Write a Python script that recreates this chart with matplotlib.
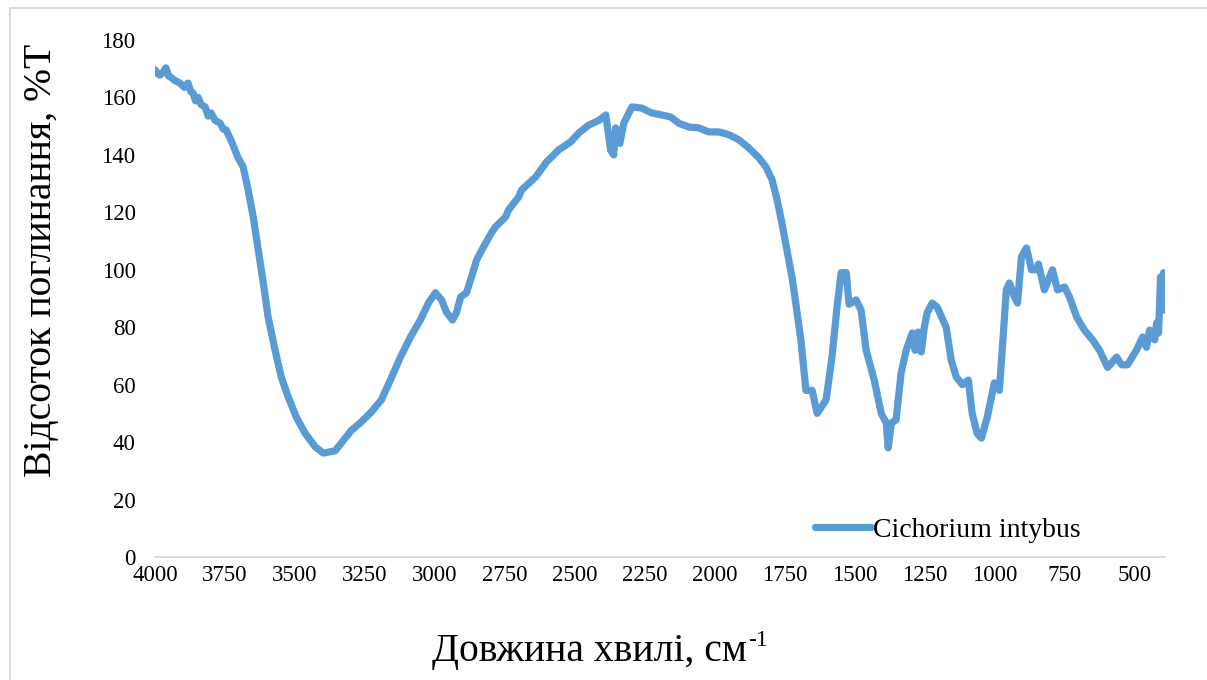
import numpy as np
import matplotlib
matplotlib.use("Agg")
import matplotlib.pyplot as plt
from matplotlib.patches import Rectangle

# FTIR spectrum, Cichorium intybus
wavenumber = [4000, 3990, 3982, 3972, 3961, 3952, 3943, 3930, 3911, 3895,
              3882, 3872, 3864, 3855, 3846, 3835, 3821, 3810, 3800, 3785,
              3767, 3756, 3746, 3728, 3703, 3685, 3667, 3649, 3631, 3613,
              3596, 3571, 3549, 3524, 3495, 3463, 3427, 3399, 3381, 3356,
              3334, 3299, 3263, 3227, 3191, 3159, 3123, 3087, 3052, 3023,
              2998, 2976, 2959, 2937, 2923, 2908, 2887, 2869, 2851, 2826,
              2797, 2783, 2747, 2737, 2701, 2690, 2640, 2601, 2558, 2515,
              2486, 2450, 2414, 2389, 2372, 2361, 2354, 2339, 2325, 2296,
              2261, 2225, 2189, 2157, 2128, 2092, 2057, 2021, 1985, 1949,
              1913, 1878, 1842, 1817, 1795, 1777, 1760, 1742, 1724, 1717,
              1692, 1674, 1652, 1634, 1602, 1581, 1563, 1548, 1530, 1520,
              1495, 1477, 1459, 1430, 1405, 1387, 1380, 1369, 1352, 1334,
              1316, 1294, 1284, 1273, 1262, 1251, 1241, 1223, 1205, 1173,
              1155, 1137, 1115, 1094, 1080, 1062, 1047, 1026, 1001, 983,
              972, 958, 947, 929, 918, 904, 886, 868, 850, 843,
              822, 793, 775, 750, 732, 707, 679, 650, 625, 596,
              564, 546, 525, 493, 471, 457, 446, 428, 421, 414,
              407, 400, 396, 392]
transmittance = [169.6, 168.2, 167.8, 168.6, 170.3, 167.5, 167.0, 166.0, 165.0, 163.5,
                 165.0, 162.0, 161.6, 158.8, 160.0, 157.5, 156.7, 153.5, 154.6, 152.0,
                 151.0, 149.0, 148.7, 145.0, 139.0, 135.8, 127.8, 118.4, 107.0, 95.4,
                 83.6, 72.0, 62.7, 55.7, 48.7, 43.0, 38.3, 36.2, 36.5, 37.0,
                 39.7, 44.0, 47.0, 50.5, 54.7, 61.6, 69.6, 76.6, 82.5, 88.4,
                 92.0, 89.5, 85.3, 82.5, 85.0, 90.5, 92.0, 97.5, 103.4, 108.0,
                 113.0, 115.0, 118.4, 120.8, 125.3, 127.8, 132.3, 137.5, 141.7, 144.5,
                 147.6, 150.4, 152.0, 153.9, 141.7, 140.0, 149.4, 144.0, 151.0, 156.7,
                 156.3, 154.6, 153.9, 153.2, 151.0, 149.7, 149.4, 148.0, 148.0, 147.0,
                 145.2, 142.4, 139.0, 135.8, 131.3, 124.3, 116.3, 107.0, 97.5, 93.0,
                 75.5, 58.0, 58.0, 50.0, 54.7, 69.6, 87.0, 99.0, 99.0, 88.0,
                 89.5, 86.0, 72.0, 61.6, 50.0, 46.7, 38.0, 46.7, 47.7, 64.0,
                 72.0, 78.0, 72.0, 78.3, 71.4, 80.0, 85.0, 88.4, 87.0, 80.0,
                 68.6, 62.7, 60.0, 61.6, 50.0, 43.0, 41.4, 48.7, 60.6, 58.0,
                 73.0, 93.0, 95.4, 90.5, 88.4, 104.5, 107.6, 100.0, 100.0, 102.0,
                 93.0, 100.0, 93.0, 94.0, 90.5, 83.6, 79.0, 75.6, 72.0, 66.0,
                 69.6, 66.9, 66.9, 72.0, 76.6, 73.0, 79.0, 75.6, 81.5, 78.0,
                 97.5, 86.0, 99.0, 86.0]
x_ticks = [4000, 3750, 3500, 3250, 3000, 2750, 2500, 2250, 2000, 1750, 1500, 1250, 1000, 750, 500]
y_ticks = [0, 20, 40, 60, 80, 100, 120, 140, 160, 180]

plt.rcParams["font.family"] = ["Liberation Serif", "DejaVu Serif"]

W, H = 1207, 680
fig = plt.figure(figsize=(W / 100, H / 100), dpi=100)
ax = fig.add_axes([155 / W, 1 - 557 / H, (1165 - 155) / W, (557 - 40) / H])

ax.plot(wavenumber, transmittance, color="#5B9BD5", lw=5.2,
        solid_joinstyle="round", solid_capstyle="round", label="Cichorium intybus")

ax.set_xlim(4000, 391)
ax.set_ylim(0, 180)
ax.set_xticks(x_ticks)
ax.set_yticks(y_ticks)
ax.tick_params(length=0, labelsize=16.5, colors="black")
ax.tick_params(axis="y", pad=14)
ax.tick_params(axis="x", pad=6)
for s in ["top", "right", "left"]:
    ax.spines[s].set_visible(False)
ax.spines["bottom"].set_color("#D9D9D9")
ax.spines["bottom"].set_linewidth(1.3)

ax.legend(loc="center left", bbox_to_anchor=(815 / W, 1 - 530 / H),
          bbox_transform=fig.transFigure, frameon=False, fontsize=20,
          handlelength=2.0, handletextpad=0.1, borderpad=0, borderaxespad=0)

fig.text(42 / W, 1 - 260 / H, "Відсоток поглинання, %T", rotation=90,
         ha="center", va="center", fontsize=28.5)
xl = fig.text(432 / W, 1 - 652 / H, "Довжина хвилі, см", ha="left",
              va="center", fontsize=28.5)
fig.canvas.draw()
bb = xl.get_window_extent()
fig.text(bb.x1 / W + 1 / W, 1 - 640 / H, "-1", ha="left", va="center", fontsize=17)

# light frame around the chart area
fig.add_artist(Rectangle((10 / W, -0.1), 1.2, 1.1 - 8 / H, transform=fig.transFigure,
                         fill=False, edgecolor="#D9D9D9", lw=1.3, clip_on=False))

fig.savefig("out.png", dpi=100)
